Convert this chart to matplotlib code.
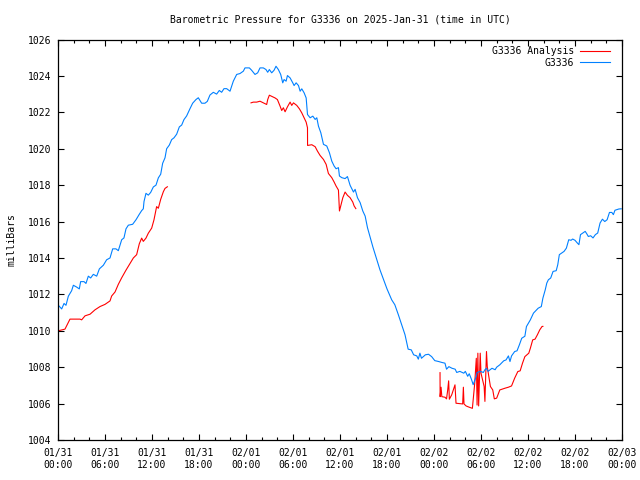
import numpy as np
import matplotlib
matplotlib.use("Agg")
import matplotlib.pyplot as plt

# hours since 2025-01-31 00:00 UTC
blue_h = [0.13, 0.47, 0.77, 1.02, 1.32, 1.74, 1.96, 2.38, 2.72, 2.89, 3.32, 3.57, 3.87, 4.17, 4.51,
          4.94, 5.28, 5.79, 6.21, 6.64, 6.98, 7.40, 7.70, 8.13, 8.42, 8.68, 8.98, 9.53, 9.96, 10.38,
          10.68, 10.89, 10.98, 11.23, 11.53, 11.83, 12.17, 12.51, 12.81, 13.11, 13.36, 13.66, 13.87,
          14.21, 14.51, 14.81, 15.15, 15.49, 15.79, 16.08, 16.42, 16.85, 17.19, 17.61, 17.91, 18.34,
          18.76, 19.06, 19.40, 19.83, 20.25, 20.59, 20.89, 21.19, 21.53, 21.96, 22.38, 22.81, 23.23,
          23.66, 23.87, 24.43, 24.72, 25.15, 25.49, 25.79, 26.21, 26.55, 26.77, 26.98, 27.28, 27.58,
          27.83, 28.13, 28.43, 28.69, 28.86, 29.12, 29.29, 29.63, 29.97, 30.14, 30.40, 30.70, 30.91,
          31.12, 31.42, 31.68, 31.85, 32.19, 32.53, 32.83, 33.04, 33.25, 33.55, 33.89, 34.31, 34.65,
          34.95, 35.25, 35.50, 35.80, 35.93, 36.23, 36.65, 36.95, 37.29, 37.72, 37.93, 38.23, 38.57,
          38.91, 39.21, 39.51, 40.2, 41.1, 42.0, 42.6, 43.0, 43.45, 43.87, 44.3, 44.7, 45.1, 45.4,
          45.8, 46.0, 46.2, 46.4, 46.9, 47.3, 47.7, 48.1, 48.6, 49.0, 49.4, 49.6, 49.9, 50.3, 50.7,
          50.9, 51.3, 51.8, 52.0, 52.3, 52.5, 52.8, 53.0, 53.4, 53.5, 53.9, 54.3, 54.5, 54.7, 54.9,
          55.4, 55.8, 56.0, 56.4, 56.9, 57.2, 57.5, 57.7, 57.9, 58.3, 58.6, 58.9, 59.2, 59.6, 59.8,
          60.3, 60.7, 61.1, 61.3, 61.7, 61.9, 62.2, 62.4, 62.6, 62.9, 63.2, 63.6, 63.8, 64.0, 64.3,
          64.6, 64.9, 65.2, 65.5, 65.7, 66.0, 66.3, 66.5, 66.7, 67.1, 67.3, 67.5, 67.7, 68.0, 68.3,
          68.6, 68.9, 69.2, 69.5, 69.8, 70.1, 70.4, 70.7, 70.9, 71.1, 71.6, 71.9]
blue_p = [1011.36, 1011.2, 1011.5, 1011.4, 1011.9, 1012.2, 1012.5, 1012.4, 1012.3, 1012.7, 1012.7,
          1012.6, 1013.0, 1012.9, 1013.1, 1013.0, 1013.4, 1013.6, 1013.9, 1014.0, 1014.5, 1014.5,
          1014.4, 1015.0, 1015.1, 1015.6, 1015.8, 1015.85, 1016.1, 1016.4, 1016.6, 1016.7, 1017.1,
          1017.55, 1017.45, 1017.6, 1017.9, 1018.0, 1018.4, 1018.6, 1019.2, 1019.5, 1020.0, 1020.2,
          1020.5, 1020.6, 1020.8, 1021.2, 1021.3, 1021.6, 1021.8, 1022.2, 1022.5, 1022.7, 1022.8,
          1022.5, 1022.5, 1022.6, 1022.95, 1023.1, 1023.0, 1023.2, 1023.1, 1023.3, 1023.3, 1023.16,
          1023.71, 1024.08, 1024.13, 1024.26, 1024.44, 1024.44, 1024.31, 1024.08, 1024.17, 1024.44,
          1024.44, 1024.35, 1024.2, 1024.35, 1024.17, 1024.31, 1024.53, 1024.35, 1024.08, 1023.62,
          1023.8, 1023.71, 1024.02, 1023.89, 1023.62, 1023.47, 1023.62, 1023.47, 1023.16, 1023.29,
          1023.07, 1022.79, 1021.88, 1021.7, 1021.79, 1021.61, 1021.7, 1021.24, 1020.88, 1020.24,
          1020.15, 1019.78, 1019.32, 1019.05, 1018.9, 1018.96, 1018.5, 1018.41, 1018.36, 1018.47,
          1017.99, 1017.62, 1017.77, 1017.31, 1017.04, 1016.58, 1016.3, 1015.66, 1014.6, 1013.35,
          1012.3, 1011.7, 1011.43, 1010.88, 1010.33, 1009.78, 1008.99, 1008.95, 1008.68, 1008.62,
          1008.44, 1008.77, 1008.49, 1008.68, 1008.71, 1008.58, 1008.36, 1008.31, 1008.26, 1008.22,
          1007.89, 1008.03, 1007.94, 1007.89, 1007.71, 1007.77, 1007.67, 1007.77, 1007.5, 1007.64,
          1007.31, 1007.04, 1007.5, 1007.71, 1007.77, 1007.71, 1007.86, 1007.94, 1007.77, 1007.94,
          1007.86, 1008.0, 1008.13, 1008.35, 1008.4, 1008.62, 1008.31, 1008.62, 1008.86, 1008.9,
          1009.23, 1009.59, 1009.7, 1010.23, 1010.6, 1010.97, 1011.15, 1011.24, 1011.33, 1011.79,
          1012.25, 1012.62, 1012.8, 1012.9, 1013.26, 1013.3, 1013.63, 1014.18, 1014.27, 1014.36,
          1014.54, 1015.0, 1014.97, 1015.04, 1014.97, 1014.82, 1014.73, 1015.28, 1015.4, 1015.46,
          1015.33, 1015.18, 1015.22, 1015.1, 1015.28, 1015.37, 1015.92, 1016.13, 1016.0, 1016.1,
          1016.5, 1016.5, 1016.38, 1016.62, 1016.69, 1016.7]

# analysis series, nan marks a gap in the data
red_h = [0.04, 0.89, 1.53, 2.81, 3.02, 3.45, 4.09, 4.72, 5.36, 6.0, 6.64, 6.85, 7.28, 7.7, 8.13,
         8.68, 9.11, 9.62, 10.04, 10.38, 10.68, 10.89, 11.23, 11.53, 11.96, 12.25, 12.59, 12.81,
         13.11, 13.45, 13.66, 13.96, np.nan,
         24.64, 24.94, 25.36, 25.79, 26.21, 26.64, 26.77, 26.98, 27.28, 27.71, 28.01, 28.35, 28.56,
         28.77, 28.99, 29.29, 29.63, 29.84, 30.06, 30.48, 30.82, 31.12, 31.42, 31.68, 31.85, 31.86,
         32.4, 32.83, 33.12, 33.46, 33.89, 34.23, 34.52, 34.95, 35.25, 35.5, 35.8, 35.93, 36.1,
         36.36, 36.65, 36.95, 37.29, 37.63, 37.8, 38.02, np.nan,
         48.77, 48.78, 48.9, 49.0, 49.4, 49.6, 49.75, 49.87, 49.96, 50.26, 50.68, 50.81, 51.66,
         51.75, 51.83, 52.1, 52.5, 52.9, 53.2, 53.4, 53.5, 53.6, 53.7, 53.9, 54.0, 54.2, 54.4,
         54.5, 54.6, 54.7, 54.8, 55.0, 55.2, 55.5, 55.7, 56.0, 56.4, 57.1, 57.5, 57.9, 58.3, 58.7,
         59.0, 59.3, 59.6, 60.1, 60.3, 60.6, 60.9, 61.2, 61.5, 61.8, 61.9]
red_p = [1010.0, 1010.09, 1010.64, 1010.64, 1010.6, 1010.82, 1010.91, 1011.15, 1011.33, 1011.45,
         1011.64, 1011.91, 1012.13, 1012.55, 1012.91, 1013.33, 1013.64, 1014.0, 1014.18, 1014.78,
         1015.09, 1014.91, 1015.09, 1015.36, 1015.64, 1016.09, 1016.82, 1016.73, 1017.22, 1017.64,
         1017.82, 1017.91, np.nan,
         1022.52, 1022.56, 1022.56, 1022.61, 1022.52, 1022.43, 1022.7, 1022.94, 1022.88, 1022.79,
         1022.7, 1022.34, 1022.1, 1022.25, 1022.03, 1022.3, 1022.56, 1022.38, 1022.52, 1022.38,
         1022.19, 1021.97, 1021.7, 1021.46, 1021.15, 1020.18, 1020.22, 1020.11, 1019.87, 1019.63,
         1019.41, 1019.14, 1018.64, 1018.41, 1018.17, 1017.95, 1017.73, 1016.58, 1016.86, 1017.31,
         1017.62, 1017.44, 1017.31, 1017.07, 1016.86, 1016.71, np.nan,
         1007.7, 1006.38, 1006.9, 1006.38, 1006.35, 1006.26, 1006.75, 1007.25, 1006.24, 1006.48,
         1007.03, 1006.02, 1005.98, 1006.9, 1005.98, 1005.87, 1005.8, 1005.74, 1007.12, 1008.49,
         1005.92, 1008.77, 1005.87, 1008.77, 1007.67, 1007.3, 1006.94, 1006.12, 1007.49, 1008.86,
         1008.03, 1007.49, 1006.94, 1006.75, 1006.26, 1006.3, 1006.75, 1006.85, 1006.9, 1006.97,
         1007.4, 1007.76, 1007.8, 1008.22, 1008.58, 1008.77, 1009.04, 1009.5, 1009.54, 1009.78,
         1010.05, 1010.24, 1010.24]

tick_hours = list(range(0, 73, 6))
tick_labels = ["01/31\n00:00", "01/31\n06:00", "01/31\n12:00", "01/31\n18:00",
               "02/01\n00:00", "02/01\n06:00", "02/01\n12:00", "02/01\n18:00",
               "02/02\n00:00", "02/02\n06:00", "02/02\n12:00", "02/02\n18:00",
               "02/03\n00:00"]

plt.rcParams['font.family'] = ['DejaVu Sans Mono']
plt.rcParams['font.size'] = 7

fig = plt.figure(figsize=(6.4, 4.8), dpi=100)
ax = fig.add_axes([58 / 640, 40 / 480, 564 / 640, 400.5 / 480])

ax.plot(red_h, red_p, color="#ff0000", lw=0.8, label="G3336 Analysis")
ax.plot(blue_h, blue_p, color="#0080ff", lw=0.8, label="G3336")

ax.set_xlim(0, 72)
ax.set_ylim(1004, 1026)
ax.set_xticks(tick_hours)
ax.set_xticklabels(tick_labels)
ax.set_xticks(range(0, 73, 2), minor=True)
ax.set_yticks(range(1004, 1027, 2))
ax.tick_params(which="both", direction="in", top=True, right=True, width=0.8)
ax.tick_params(which="major", length=4.5, pad=5)
ax.tick_params(which="minor", length=2.5)
ax.tick_params(axis="x", which="major", pad=6)
for s in ax.spines.values():
    s.set_linewidth(0.9)

ax.set_ylabel("milliBars", labelpad=8)
ax.set_title("Barometric Pressure for G3336 on 2025-Jan-31 (time in UTC)", fontsize=7, pad=12)

ax.legend(loc="upper right", bbox_to_anchor=(1 - 5 / 564, 1), frameon=False, markerfirst=False,
          handlelength=3.1, borderaxespad=0.3, labelspacing=0.15, handletextpad=0.6)

plt.savefig("out.png", dpi=100)
plt.close()
